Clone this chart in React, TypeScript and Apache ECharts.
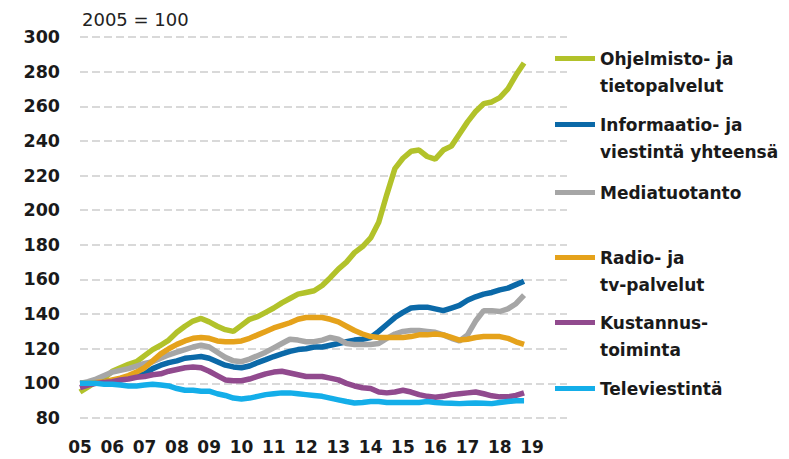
import React, { useEffect, useRef } from 'react';
import * as echarts from 'echarts';

const startYear = 2005;
const yearLabels = ['05', '06', '07', '08', '09', '10', '11', '12', '13', '14', '15', '16', '17', '18', '19'];
const yTicks = [80, 100, 120, 140, 160, 180, 200, 220, 240, 260, 280, 300];

// Quarterly index values, 2005 Q1 .. 2018 Q4 (2005 = 100)
const ohjelmisto = [
  95, 98, 101, 103, 107, 109, 111, 112.5, 116, 119.5,
  122, 125, 129.5, 133, 136, 137.5, 135.5, 133, 131, 130,
  133.5, 137, 138.5, 141, 143.5, 146.5, 149, 151.5, 152.5, 153.5,
  156.5, 161, 166, 170, 175.5, 179, 184, 193, 209, 224,
  230, 234, 234.7, 231, 229.5, 234.7, 237, 244, 251, 257,
  261.5, 262.5, 265, 270, 278, 285,
];
const informaatio = [
  100, 100, 100, 101, 101.5, 102, 103, 104, 105.5, 108.5,
  110.5, 112, 113, 114.5, 115, 115.5, 114.5, 112.5, 110.5, 109.5,
  109, 110, 112, 113.7, 115.5, 117, 118.5, 119.5, 120, 121,
  121, 122, 123, 124, 125, 125.5, 126.5, 130, 134, 138,
  141, 143.5, 144, 144, 143, 142, 143.5, 145, 148, 150,
  151.5, 152.5, 154, 155, 157, 159,
];
const mediatuotanto = [
  100, 101, 102.5, 104.5, 106.5, 107.5, 108.5, 110, 111.5, 112.5,
  114.5, 116.5, 118, 119.5, 121, 122, 121, 118, 115, 113,
  112.5, 114, 116, 118, 120.5, 123, 125.5, 125, 124, 124,
  125, 126.5, 125.5, 123, 122.5, 122.5, 122.5, 123, 126, 128.5,
  130, 130.5, 130.5, 130, 129.5, 128, 126, 124.5, 128, 136,
  142, 142, 141.5, 143, 146, 151,
];
const radioTv = [
  100, 100, 100.5, 101, 102, 103, 104.5, 106.5, 109, 113,
  117, 120, 122.5, 124.5, 126, 126.5, 126, 124.5, 124, 124,
  124.5, 126, 128, 130, 132, 133.5, 135, 137, 138, 138,
  138, 137, 135.5, 133, 130.5, 128.5, 127, 126.5, 126.5, 126.5,
  126.5, 127, 128, 128, 128.5, 128, 126.5, 125, 125.5, 126.5,
  127, 127, 127, 126, 124, 122.5,
];
const kustannus = [
  97.5, 99, 100, 100.5, 101, 102, 102.5, 103.5, 104, 105,
  105.5, 107, 108, 109, 109.5, 109, 107, 104.5, 102, 101.5,
  101.5, 102.5, 104, 105.5, 106.5, 107, 106, 105, 104, 104,
  104, 103, 102, 100, 98.5, 97.5, 97, 95, 94.5, 95,
  96, 95, 93.5, 92.5, 92, 92.5, 93.5, 94, 94.5, 95,
  94, 92.8, 92.2, 92.2, 93, 94.5,
];
const televiestinta = [
  100, 100, 100, 99.5, 99.5, 99, 98.5, 98.5, 99, 99.5,
  99, 98.5, 97, 96, 96, 95.5, 95.5, 94, 93, 91.5,
  91, 91.5, 92.5, 93.5, 94, 94.5, 94.5, 94, 93.5, 93,
  92.5, 91.5, 90.5, 89.5, 88.7, 89, 89.5, 89.5, 89, 89,
  89, 89, 89, 89.5, 89, 88.7, 88.5, 88.3, 88.5, 88.7,
  88.5, 88.3, 89, 89.5, 90, 90,
];

const seriesNames = [
  'Ohjelmisto- ja tietopalvelut',
  'Informaatio- ja viestintä yhteensä',
  'Mediatuotanto',
  'Radio- ja tv-palvelut',
  'Kustannus-toiminta',
  'Televiestintä',
];
const legendLines = [
  ['Ohjelmisto- ja', 'tietopalvelut'],
  ['Informaatio- ja', 'viestintä yhteensä'],
  ['Mediatuotanto'],
  ['Radio- ja', 'tv-palvelut'],
  ['Kustannus-', 'toiminta'],
  ['Televiestintä'],
];
const seriesValues = [ohjelmisto, informaatio, mediatuotanto, radioTv, kustannus, televiestinta];
const colors = ['#B2C22A', '#0B69A8', '#A6A6A6', '#E5A21B', '#914A8E', '#14AEE9'];
const legendIconY = [59, 125, 192, 258, 323, 388];

const FONT = 'DejaVu Sans';
const LH = 27;

export default function App() {
  const ref = useRef<HTMLDivElement>(null);
  useEffect(() => {
    document.body.style.margin = '0';
    if (!ref.current) return;
    const chart = echarts.init(ref.current, undefined, { renderer: 'svg' });
    const series = seriesValues.map((vals, i) => ({
      name: seriesNames[i],
      type: 'line',
      showSymbol: false,
      symbol: 'none',
      data: vals.map((v, k) => [startYear + k / 4, v]),
      lineStyle: { width: 5.5, color: colors[i] },
      itemStyle: { color: colors[i] },
      z: 2 + i,
    }));
    const legends = seriesNames.map((name, i) => {
      const two = legendLines[i].length > 1;
      return {
        data: [name],
        left: 555,
        top: legendIconY[i] - (two ? 41 : 13),
        orient: 'vertical',
        padding: 0,
        icon: 'rect',
        itemWidth: 40,
        itemHeight: 5,
        selectedMode: false,
        formatter: () => (two ? ' \n' + legendLines[i].join('\n') : legendLines[i][0]),
        textStyle: {
          fontFamily: FONT,
          fontSize: 17,
          fontWeight: 'bold',
          color: '#1a1a1a',
          lineHeight: LH,
        },
      };
    });
    chart.setOption({
      animation: false,
      backgroundColor: '#ffffff',
      color: colors,
      title: {
        text: '2005 = 100',
        left: 82,
        top: 10,
        padding: 0,
        textStyle: { fontFamily: FONT, fontSize: 18, fontWeight: 'normal', color: '#222' },
      },
      legend: legends,
      grid: { left: 80, right: 222, top: 37, bottom: 41 },
      xAxis: {
        type: 'value',
        min: startYear,
        max: 2020.08,
        interval: 1,
        axisLine: { show: false },
        axisTick: { show: false },
        splitLine: { show: false },
        axisLabel: {
          margin: 20,
          showMaxLabel: false,
          fontFamily: FONT,
          fontSize: 17,
          fontWeight: 'bold',
          color: '#1a1a1a',
          formatter: (v: number) => {
            const idx = Math.round(v - startYear);
            return idx >= 0 && idx < yearLabels.length ? yearLabels[idx] : '';
          },
        },
      },
      yAxis: {
        type: 'value',
        min: yTicks[0],
        max: yTicks[yTicks.length - 1],
        interval: 20,
        axisLine: { show: false },
        axisTick: { show: false },
        axisLabel: {
          margin: 20,
          fontFamily: FONT,
          fontSize: 17.5,
          fontWeight: 'bold',
          color: '#1a1a1a',
        },
        splitLine: { show: true, lineStyle: { color: '#d9d9d9', width: 2, type: [8, 4] } },
      },
      series,
    });
    return () => chart.dispose();
  }, []);
  return <div ref={ref} style={{ width: 789, height: 459 }} />;
}
